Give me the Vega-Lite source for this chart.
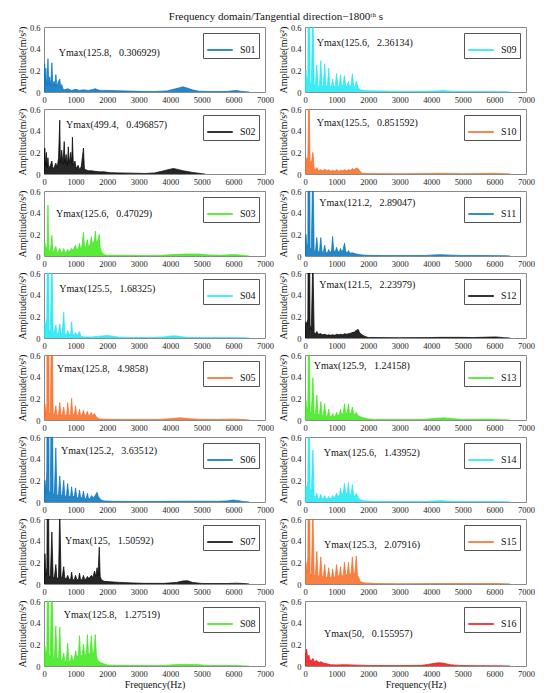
{
  "$schema": "https://vega.github.io/schema/vega-lite/v6.json",
  "background": "white",
  "padding": {"left": 16, "top": 10, "right": 5, "bottom": 5},
  "title": {"text": "Frequency domain/Tangential direction−1800ᵗʰ s", "anchor": "middle"},
  "config": {
    "font": "Liberation Serif",
    "view": {"stroke": "#8a8a8a", "strokeWidth": 1},
    "axis": {"grid": false, "ticks": false, "domain": false, "labelFont": "Liberation Serif", "labelFontSize": 8.5, "labelColor": "#222", "labelFlush": false, "labelOverlap": false, "titleFont": "Liberation Serif", "titleFontSize": 10, "titleFontWeight": "normal", "titleColor": "#111", "labelPadding": 3},
    "axisY": {"titlePadding": 2, "labelPadding": 4},
    "axisX": {"titlePadding": 2},
    "legend": {"orient": "top-right", "offset": 6, "padding": 3, "strokeColor": "#555", "fillColor": "white", "symbolType": "stroke", "symbolSize": 650, "symbolStrokeWidth": 1.6, "labelFont": "Liberation Serif", "labelFontSize": 10, "labelColor": "#111", "labelOffset": 6},
    "title": {"font": "Liberation Serif", "fontSize": 11, "fontWeight": "normal", "color": "#111", "offset": 1},
    "text": {"font": "Liberation Serif", "fontSize": 10, "color": "#111"}
  },
  "columns": 2,
  "spacing": {"row": 17, "column": 40},
  "bounds": "flush",
  "resolve": {"scale": {"color": "independent"}, "legend": {"color": "independent"}},
  "concat": [
    {
      "width": 221, "height": 65,
      "data": {"values": [{"f":0,"a":0.02},{"f":20,"a":0.26},{"f":40,"a":0.08},{"f":60,"a":0.22},{"f":80,"a":0.06},{"f":100,"a":0.12},{"f":125.8,"a":0.306929},{"f":150,"a":0.07},{"f":180,"a":0.14},{"f":210,"a":0.05},{"f":250,"a":0.27},{"f":280,"a":0.06},{"f":320,"a":0.1},{"f":350,"a":0.05},{"f":375,"a":0.16},{"f":410,"a":0.05},{"f":450,"a":0.09},{"f":500,"a":0.12},{"f":530,"a":0.04},{"f":560,"a":0.07},{"f":600,"a":0.03},{"f":650,"a":0.02},{"f":750,"a":0.03},{"f":875,"a":0.015},{"f":1000,"a":0.025},{"f":1125,"a":0.015},{"f":1250,"a":0.02},{"f":1400,"a":0.015},{"f":1500,"a":0.02},{"f":1625,"a":0.03},{"f":1700,"a":0.02},{"f":1800,"a":0.015},{"f":2000,"a":0.015},{"f":2300,"a":0.012},{"f":2600,"a":0.01},{"f":3000,"a":0.006},{"f":3500,"a":0.005},{"f":3900,"a":0.01},{"f":4100,"a":0.025},{"f":4300,"a":0.04},{"f":4400,"a":0.048},{"f":4500,"a":0.04},{"f":4700,"a":0.02},{"f":4900,"a":0.008},{"f":5200,"a":0.005},{"f":5800,"a":0.005},{"f":6000,"a":0.012},{"f":6100,"a":0.015},{"f":6200,"a":0.008},{"f":6400,"a":0.002},{"f":6500,"a":0}]},
      "layer": [
        {"mark": {"type": "area", "clip": true, "color": "#0072BD", "opacity": 0.85}, "encoding": {"x": {"field": "f", "type": "quantitative", "title": null, "scale": {"domain": [0, 7000]}, "axis": {"values": [0,1000,2000,3000,4000,5000,6000,7000], "format": "d"}}, "y": {"field": "a", "type": "quantitative", "title": "Amplitude(m/s²)", "scale": {"domain": [0, 0.6]}, "axis": {"values": [0,0.2,0.4,0.6], "format": "~g"}}}},
        {"mark": {"type": "line", "clip": true, "strokeWidth": 0.7}, "encoding": {"x": {"field": "f", "type": "quantitative", "title": null, "scale": {"domain": [0, 7000]}, "axis": {"values": [0,1000,2000,3000,4000,5000,6000,7000], "format": "d"}}, "y": {"field": "a", "type": "quantitative", "title": "Amplitude(m/s²)", "scale": {"domain": [0, 0.6]}, "axis": {"values": [0,0.2,0.4,0.6], "format": "~g"}}, "color": {"datum": "S01", "scale": {"range": ["#0072BD"]}, "legend": {"title": null}}}},
        {"data": {"values": [{"label": "Ymax(125.8,\u00a0\u00a0 0.306929)"}]}, "mark": {"type": "text", "align": "left", "baseline": "middle"}, "encoding": {"x": {"datum": 470, "type": "quantitative", "title": null, "scale": {"domain": [0, 7000]}, "axis": {"values": [0,1000,2000,3000,4000,5000,6000,7000], "format": "d"}}, "y": {"datum": 0.36, "type": "quantitative", "title": "Amplitude(m/s²)", "scale": {"domain": [0, 0.6]}, "axis": {"values": [0,0.2,0.4,0.6], "format": "~g"}}, "text": {"field": "label"}}}
      ]
    },
    {
      "width": 221, "height": 65,
      "data": {"values": [{"f":0,"a":0.05},{"f":30,"a":0.2},{"f":60,"a":0.07},{"f":90,"a":0.15},{"f":125.6,"a":2.36134},{"f":160,"a":0.08},{"f":200,"a":0.07},{"f":250,"a":0.8},{"f":290,"a":0.06},{"f":330,"a":0.07},{"f":375,"a":0.25},{"f":410,"a":0.05},{"f":460,"a":0.06},{"f":500,"a":0.29},{"f":540,"a":0.05},{"f":580,"a":0.06},{"f":625,"a":0.26},{"f":660,"a":0.05},{"f":710,"a":0.06},{"f":750,"a":0.22},{"f":790,"a":0.05},{"f":840,"a":0.05},{"f":875,"a":0.12},{"f":910,"a":0.05},{"f":960,"a":0.05},{"f":1000,"a":0.17},{"f":1040,"a":0.05},{"f":1090,"a":0.06},{"f":1125,"a":0.16},{"f":1160,"a":0.05},{"f":1210,"a":0.07},{"f":1250,"a":0.15},{"f":1290,"a":0.05},{"f":1340,"a":0.06},{"f":1375,"a":0.1},{"f":1410,"a":0.05},{"f":1460,"a":0.06},{"f":1500,"a":0.17},{"f":1540,"a":0.05},{"f":1590,"a":0.05},{"f":1625,"a":0.1},{"f":1680,"a":0.04},{"f":1750,"a":0.02},{"f":1900,"a":0.012},{"f":2300,"a":0.01},{"f":2700,"a":0.008},{"f":3200,"a":0.005},{"f":3800,"a":0.006},{"f":4200,"a":0.01},{"f":4400,"a":0.013},{"f":4600,"a":0.008},{"f":5000,"a":0.005},{"f":6000,"a":0.004},{"f":6400,"a":0.002},{"f":6500,"a":0}]},
      "layer": [
        {"mark": {"type": "area", "clip": true, "color": "#1CE6F2", "opacity": 0.85}, "encoding": {"x": {"field": "f", "type": "quantitative", "title": null, "scale": {"domain": [0, 7000]}, "axis": {"values": [0,1000,2000,3000,4000,5000,6000,7000], "format": "d"}}, "y": {"field": "a", "type": "quantitative", "title": "Amplitude(m/s²)", "scale": {"domain": [0, 0.6]}, "axis": {"values": [0,0.2,0.4,0.6], "format": "~g"}}}},
        {"mark": {"type": "line", "clip": true, "strokeWidth": 0.7}, "encoding": {"x": {"field": "f", "type": "quantitative", "title": null, "scale": {"domain": [0, 7000]}, "axis": {"values": [0,1000,2000,3000,4000,5000,6000,7000], "format": "d"}}, "y": {"field": "a", "type": "quantitative", "title": "Amplitude(m/s²)", "scale": {"domain": [0, 0.6]}, "axis": {"values": [0,0.2,0.4,0.6], "format": "~g"}}, "color": {"datum": "S09", "scale": {"range": ["#1CE6F2"]}, "legend": {"title": null}}}},
        {"data": {"values": [{"label": "Ymax(125.6,\u00a0\u00a0 2.36134)"}]}, "mark": {"type": "text", "align": "left", "baseline": "middle"}, "encoding": {"x": {"datum": 375, "type": "quantitative", "title": null, "scale": {"domain": [0, 7000]}, "axis": {"values": [0,1000,2000,3000,4000,5000,6000,7000], "format": "d"}}, "y": {"datum": 0.455, "type": "quantitative", "title": "Amplitude(m/s²)", "scale": {"domain": [0, 0.6]}, "axis": {"values": [0,0.2,0.4,0.6], "format": "~g"}}, "text": {"field": "label"}}}
      ]
    },
    {
      "width": 221, "height": 65,
      "data": {"values": [{"f":0,"a":0.03},{"f":25,"a":0.24},{"f":50,"a":0.08},{"f":75,"a":0.2},{"f":100,"a":0.06},{"f":125,"a":0.15},{"f":150,"a":0.05},{"f":200,"a":0.08},{"f":250,"a":0.12},{"f":280,"a":0.05},{"f":320,"a":0.06},{"f":375,"a":0.1},{"f":420,"a":0.06},{"f":460,"a":0.15},{"f":499.4,"a":0.496857},{"f":520,"a":0.1},{"f":560,"a":0.22},{"f":600,"a":0.09},{"f":640,"a":0.3},{"f":670,"a":0.1},{"f":700,"a":0.18},{"f":740,"a":0.08},{"f":770,"a":0.25},{"f":800,"a":0.1},{"f":850,"a":0.2},{"f":880,"a":0.09},{"f":900,"a":0.34},{"f":930,"a":0.08},{"f":980,"a":0.12},{"f":1020,"a":0.05},{"f":1080,"a":0.08},{"f":1130,"a":0.04},{"f":1180,"a":0.07},{"f":1250,"a":0.24},{"f":1280,"a":0.05},{"f":1320,"a":0.04},{"f":1400,"a":0.03},{"f":1500,"a":0.03},{"f":1600,"a":0.025},{"f":1750,"a":0.02},{"f":1900,"a":0.02},{"f":2100,"a":0.012},{"f":2400,"a":0.01},{"f":2800,"a":0.008},{"f":3200,"a":0.005},{"f":3500,"a":0.01},{"f":3800,"a":0.03},{"f":4000,"a":0.045},{"f":4100,"a":0.05},{"f":4200,"a":0.045},{"f":4400,"a":0.03},{"f":4700,"a":0.015},{"f":5000,"a":0.003},{"f":5100,"a":0}]},
      "layer": [
        {"mark": {"type": "area", "clip": true, "color": "#000000", "opacity": 0.85}, "encoding": {"x": {"field": "f", "type": "quantitative", "title": null, "scale": {"domain": [0, 7000]}, "axis": {"values": [0,1000,2000,3000,4000,5000,6000,7000], "format": "d"}}, "y": {"field": "a", "type": "quantitative", "title": "Amplitude(m/s²)", "scale": {"domain": [0, 0.6]}, "axis": {"values": [0,0.2,0.4,0.6], "format": "~g"}}}},
        {"mark": {"type": "line", "clip": true, "strokeWidth": 0.7}, "encoding": {"x": {"field": "f", "type": "quantitative", "title": null, "scale": {"domain": [0, 7000]}, "axis": {"values": [0,1000,2000,3000,4000,5000,6000,7000], "format": "d"}}, "y": {"field": "a", "type": "quantitative", "title": "Amplitude(m/s²)", "scale": {"domain": [0, 0.6]}, "axis": {"values": [0,0.2,0.4,0.6], "format": "~g"}}, "color": {"datum": "S02", "scale": {"range": ["#000000"]}, "legend": {"title": null}}}},
        {"data": {"values": [{"label": "Ymax(499.4,\u00a0\u00a0 0.496857)"}]}, "mark": {"type": "text", "align": "left", "baseline": "middle"}, "encoding": {"x": {"datum": 697, "type": "quantitative", "title": null, "scale": {"domain": [0, 7000]}, "axis": {"values": [0,1000,2000,3000,4000,5000,6000,7000], "format": "d"}}, "y": {"datum": 0.45, "type": "quantitative", "title": "Amplitude(m/s²)", "scale": {"domain": [0, 0.6]}, "axis": {"values": [0,0.2,0.4,0.6], "format": "~g"}}, "text": {"field": "label"}}}
      ]
    },
    {
      "width": 221, "height": 65,
      "data": {"values": [{"f":0,"a":0.05},{"f":30,"a":0.12},{"f":60,"a":0.15},{"f":90,"a":0.14},{"f":125.5,"a":0.851592},{"f":160,"a":0.12},{"f":200,"a":0.1},{"f":250,"a":0.2},{"f":290,"a":0.05},{"f":330,"a":0.04},{"f":375,"a":0.06},{"f":420,"a":0.03},{"f":500,"a":0.04},{"f":560,"a":0.03},{"f":625,"a":0.045},{"f":700,"a":0.03},{"f":750,"a":0.04},{"f":820,"a":0.025},{"f":875,"a":0.035},{"f":950,"a":0.025},{"f":1000,"a":0.04},{"f":1080,"a":0.025},{"f":1125,"a":0.035},{"f":1200,"a":0.03},{"f":1250,"a":0.04},{"f":1320,"a":0.03},{"f":1375,"a":0.04},{"f":1450,"a":0.035},{"f":1500,"a":0.05},{"f":1560,"a":0.04},{"f":1625,"a":0.055},{"f":1680,"a":0.05},{"f":1730,"a":0.03},{"f":1800,"a":0.008},{"f":2000,"a":0.004},{"f":3000,"a":0.003},{"f":4000,"a":0.005},{"f":4300,"a":0.006},{"f":5000,"a":0.003},{"f":5900,"a":0.006},{"f":6100,"a":0.005},{"f":6400,"a":0.002},{"f":6500,"a":0}]},
      "layer": [
        {"mark": {"type": "area", "clip": true, "color": "#F76A22", "opacity": 0.85}, "encoding": {"x": {"field": "f", "type": "quantitative", "title": null, "scale": {"domain": [0, 7000]}, "axis": {"values": [0,1000,2000,3000,4000,5000,6000,7000], "format": "d"}}, "y": {"field": "a", "type": "quantitative", "title": "Amplitude(m/s²)", "scale": {"domain": [0, 0.6]}, "axis": {"values": [0,0.2,0.4,0.6], "format": "~g"}}}},
        {"mark": {"type": "line", "clip": true, "strokeWidth": 0.7}, "encoding": {"x": {"field": "f", "type": "quantitative", "title": null, "scale": {"domain": [0, 7000]}, "axis": {"values": [0,1000,2000,3000,4000,5000,6000,7000], "format": "d"}}, "y": {"field": "a", "type": "quantitative", "title": "Amplitude(m/s²)", "scale": {"domain": [0, 0.6]}, "axis": {"values": [0,0.2,0.4,0.6], "format": "~g"}}, "color": {"datum": "S10", "scale": {"range": ["#F76A22"]}, "legend": {"title": null}}}},
        {"data": {"values": [{"label": "Ymax(125.5,\u00a0\u00a0 0.851592)"}]}, "mark": {"type": "text", "align": "left", "baseline": "middle"}, "encoding": {"x": {"datum": 375, "type": "quantitative", "title": null, "scale": {"domain": [0, 7000]}, "axis": {"values": [0,1000,2000,3000,4000,5000,6000,7000], "format": "d"}}, "y": {"datum": 0.47, "type": "quantitative", "title": "Amplitude(m/s²)", "scale": {"domain": [0, 0.6]}, "axis": {"values": [0,0.2,0.4,0.6], "format": "~g"}}, "text": {"field": "label"}}}
      ]
    },
    {
      "width": 221, "height": 65,
      "data": {"values": [{"f":0,"a":0.03},{"f":30,"a":0.12},{"f":60,"a":0.05},{"f":100,"a":0.1},{"f":125.6,"a":0.47029},{"f":150,"a":0.06},{"f":200,"a":0.04},{"f":250,"a":0.19},{"f":280,"a":0.04},{"f":330,"a":0.05},{"f":375,"a":0.09},{"f":410,"a":0.03},{"f":450,"a":0.04},{"f":500,"a":0.07},{"f":540,"a":0.03},{"f":600,"a":0.04},{"f":625,"a":0.07},{"f":660,"a":0.03},{"f":720,"a":0.04},{"f":750,"a":0.06},{"f":800,"a":0.04},{"f":875,"a":0.07},{"f":920,"a":0.05},{"f":1000,"a":0.1},{"f":1040,"a":0.05},{"f":1100,"a":0.08},{"f":1125,"a":0.12},{"f":1160,"a":0.06},{"f":1200,"a":0.09},{"f":1250,"a":0.22},{"f":1290,"a":0.07},{"f":1340,"a":0.1},{"f":1375,"a":0.15},{"f":1410,"a":0.08},{"f":1460,"a":0.11},{"f":1500,"a":0.18},{"f":1540,"a":0.1},{"f":1600,"a":0.15},{"f":1625,"a":0.23},{"f":1660,"a":0.12},{"f":1700,"a":0.14},{"f":1750,"a":0.2},{"f":1780,"a":0.08},{"f":1820,"a":0.04},{"f":1900,"a":0.012},{"f":2000,"a":0.008},{"f":2500,"a":0.006},{"f":3000,"a":0.005},{"f":3600,"a":0.005},{"f":4000,"a":0.012},{"f":4500,"a":0.018},{"f":4900,"a":0.018},{"f":5200,"a":0.01},{"f":5600,"a":0.006},{"f":5900,"a":0.012},{"f":6100,"a":0.012},{"f":6400,"a":0.003},{"f":6500,"a":0}]},
      "layer": [
        {"mark": {"type": "area", "clip": true, "color": "#3BE817", "opacity": 0.85}, "encoding": {"x": {"field": "f", "type": "quantitative", "title": null, "scale": {"domain": [0, 7000]}, "axis": {"values": [0,1000,2000,3000,4000,5000,6000,7000], "format": "d"}}, "y": {"field": "a", "type": "quantitative", "title": "Amplitude(m/s²)", "scale": {"domain": [0, 0.6]}, "axis": {"values": [0,0.2,0.4,0.6], "format": "~g"}}}},
        {"mark": {"type": "line", "clip": true, "strokeWidth": 0.7}, "encoding": {"x": {"field": "f", "type": "quantitative", "title": null, "scale": {"domain": [0, 7000]}, "axis": {"values": [0,1000,2000,3000,4000,5000,6000,7000], "format": "d"}}, "y": {"field": "a", "type": "quantitative", "title": "Amplitude(m/s²)", "scale": {"domain": [0, 0.6]}, "axis": {"values": [0,0.2,0.4,0.6], "format": "~g"}}, "color": {"datum": "S03", "scale": {"range": ["#3BE817"]}, "legend": {"title": null}}}},
        {"data": {"values": [{"label": "Ymax(125.6,\u00a0\u00a0 0.47029)"}]}, "mark": {"type": "text", "align": "left", "baseline": "middle"}, "encoding": {"x": {"datum": 380, "type": "quantitative", "title": null, "scale": {"domain": [0, 7000]}, "axis": {"values": [0,1000,2000,3000,4000,5000,6000,7000], "format": "d"}}, "y": {"datum": 0.39, "type": "quantitative", "title": "Amplitude(m/s²)", "scale": {"domain": [0, 0.6]}, "axis": {"values": [0,0.2,0.4,0.6], "format": "~g"}}, "text": {"field": "label"}}}
      ]
    },
    {
      "width": 221, "height": 65,
      "data": {"values": [{"f":0,"a":0.06},{"f":30,"a":0.2},{"f":60,"a":0.08},{"f":90,"a":0.12},{"f":121.2,"a":2.89047},{"f":160,"a":0.08},{"f":200,"a":0.05},{"f":250,"a":0.9},{"f":290,"a":0.05},{"f":330,"a":0.04},{"f":375,"a":0.17},{"f":410,"a":0.04},{"f":460,"a":0.04},{"f":500,"a":0.17},{"f":540,"a":0.035},{"f":580,"a":0.035},{"f":625,"a":0.1},{"f":660,"a":0.03},{"f":710,"a":0.03},{"f":750,"a":0.06},{"f":790,"a":0.03},{"f":840,"a":0.05},{"f":875,"a":0.18},{"f":910,"a":0.05},{"f":960,"a":0.04},{"f":1000,"a":0.08},{"f":1040,"a":0.04},{"f":1090,"a":0.04},{"f":1125,"a":0.07},{"f":1160,"a":0.04},{"f":1210,"a":0.06},{"f":1250,"a":0.12},{"f":1290,"a":0.04},{"f":1340,"a":0.03},{"f":1375,"a":0.05},{"f":1420,"a":0.025},{"f":1500,"a":0.03},{"f":1600,"a":0.02},{"f":1700,"a":0.015},{"f":1800,"a":0.01},{"f":2000,"a":0.006},{"f":2500,"a":0.004},{"f":3200,"a":0.004},{"f":3800,"a":0.005},{"f":4100,"a":0.01},{"f":4300,"a":0.012},{"f":4600,"a":0.008},{"f":5000,"a":0.005},{"f":5800,"a":0.004},{"f":6400,"a":0.002},{"f":6500,"a":0}]},
      "layer": [
        {"mark": {"type": "area", "clip": true, "color": "#0072BD", "opacity": 0.85}, "encoding": {"x": {"field": "f", "type": "quantitative", "title": null, "scale": {"domain": [0, 7000]}, "axis": {"values": [0,1000,2000,3000,4000,5000,6000,7000], "format": "d"}}, "y": {"field": "a", "type": "quantitative", "title": "Amplitude(m/s²)", "scale": {"domain": [0, 0.6]}, "axis": {"values": [0,0.2,0.4,0.6], "format": "~g"}}}},
        {"mark": {"type": "line", "clip": true, "strokeWidth": 0.7}, "encoding": {"x": {"field": "f", "type": "quantitative", "title": null, "scale": {"domain": [0, 7000]}, "axis": {"values": [0,1000,2000,3000,4000,5000,6000,7000], "format": "d"}}, "y": {"field": "a", "type": "quantitative", "title": "Amplitude(m/s²)", "scale": {"domain": [0, 0.6]}, "axis": {"values": [0,0.2,0.4,0.6], "format": "~g"}}, "color": {"datum": "S11", "scale": {"range": ["#0072BD"]}, "legend": {"title": null}}}},
        {"data": {"values": [{"label": "Ymax(121.2,\u00a0\u00a0 2.89047)"}]}, "mark": {"type": "text", "align": "left", "baseline": "middle"}, "encoding": {"x": {"datum": 454, "type": "quantitative", "title": null, "scale": {"domain": [0, 7000]}, "axis": {"values": [0,1000,2000,3000,4000,5000,6000,7000], "format": "d"}}, "y": {"datum": 0.49, "type": "quantitative", "title": "Amplitude(m/s²)", "scale": {"domain": [0, 0.6]}, "axis": {"values": [0,0.2,0.4,0.6], "format": "~g"}}, "text": {"field": "label"}}}
      ]
    },
    {
      "width": 221, "height": 65,
      "data": {"values": [{"f":0,"a":0.05},{"f":30,"a":0.15},{"f":60,"a":0.06},{"f":90,"a":0.2},{"f":125.5,"a":1.68325},{"f":160,"a":0.08},{"f":200,"a":0.05},{"f":250,"a":0.8},{"f":290,"a":0.05},{"f":330,"a":0.06},{"f":375,"a":0.12},{"f":410,"a":0.04},{"f":460,"a":0.05},{"f":500,"a":0.13},{"f":540,"a":0.04},{"f":580,"a":0.05},{"f":625,"a":0.24},{"f":660,"a":0.04},{"f":720,"a":0.03},{"f":750,"a":0.07},{"f":800,"a":0.03},{"f":850,"a":0.04},{"f":875,"a":0.15},{"f":910,"a":0.03},{"f":960,"a":0.03},{"f":1000,"a":0.05},{"f":1050,"a":0.02},{"f":1125,"a":0.06},{"f":1170,"a":0.015},{"f":1300,"a":0.01},{"f":1500,"a":0.01},{"f":1700,"a":0.015},{"f":1900,"a":0.02},{"f":2050,"a":0.022},{"f":2200,"a":0.015},{"f":2400,"a":0.008},{"f":2800,"a":0.005},{"f":3400,"a":0.004},{"f":3800,"a":0.01},{"f":4000,"a":0.018},{"f":4150,"a":0.02},{"f":4300,"a":0.015},{"f":4500,"a":0.006},{"f":5000,"a":0.004},{"f":5800,"a":0.004},{"f":6400,"a":0.002},{"f":6500,"a":0}]},
      "layer": [
        {"mark": {"type": "area", "clip": true, "color": "#1CE6F2", "opacity": 0.85}, "encoding": {"x": {"field": "f", "type": "quantitative", "title": null, "scale": {"domain": [0, 7000]}, "axis": {"values": [0,1000,2000,3000,4000,5000,6000,7000], "format": "d"}}, "y": {"field": "a", "type": "quantitative", "title": "Amplitude(m/s²)", "scale": {"domain": [0, 0.6]}, "axis": {"values": [0,0.2,0.4,0.6], "format": "~g"}}}},
        {"mark": {"type": "line", "clip": true, "strokeWidth": 0.7}, "encoding": {"x": {"field": "f", "type": "quantitative", "title": null, "scale": {"domain": [0, 7000]}, "axis": {"values": [0,1000,2000,3000,4000,5000,6000,7000], "format": "d"}}, "y": {"field": "a", "type": "quantitative", "title": "Amplitude(m/s²)", "scale": {"domain": [0, 0.6]}, "axis": {"values": [0,0.2,0.4,0.6], "format": "~g"}}, "color": {"datum": "S04", "scale": {"range": ["#1CE6F2"]}, "legend": {"title": null}}}},
        {"data": {"values": [{"label": "Ymax(125.5,\u00a0\u00a0 1.68325)"}]}, "mark": {"type": "text", "align": "left", "baseline": "middle"}, "encoding": {"x": {"datum": 486, "type": "quantitative", "title": null, "scale": {"domain": [0, 7000]}, "axis": {"values": [0,1000,2000,3000,4000,5000,6000,7000], "format": "d"}}, "y": {"datum": 0.45, "type": "quantitative", "title": "Amplitude(m/s²)", "scale": {"domain": [0, 0.6]}, "axis": {"values": [0,0.2,0.4,0.6], "format": "~g"}}, "text": {"field": "label"}}}
      ]
    },
    {
      "width": 221, "height": 65,
      "data": {"values": [{"f":0,"a":0.08},{"f":30,"a":0.15},{"f":60,"a":0.12},{"f":90,"a":0.18},{"f":121.5,"a":2.23979},{"f":160,"a":0.12},{"f":200,"a":0.08},{"f":250,"a":0.75},{"f":290,"a":0.05},{"f":330,"a":0.04},{"f":375,"a":0.06},{"f":420,"a":0.035},{"f":500,"a":0.04},{"f":560,"a":0.03},{"f":625,"a":0.035},{"f":700,"a":0.025},{"f":750,"a":0.03},{"f":820,"a":0.025},{"f":875,"a":0.03},{"f":950,"a":0.025},{"f":1000,"a":0.035},{"f":1080,"a":0.03},{"f":1125,"a":0.035},{"f":1200,"a":0.03},{"f":1250,"a":0.04},{"f":1320,"a":0.035},{"f":1375,"a":0.04},{"f":1450,"a":0.045},{"f":1500,"a":0.05},{"f":1560,"a":0.055},{"f":1625,"a":0.07},{"f":1680,"a":0.08},{"f":1730,"a":0.05},{"f":1800,"a":0.03},{"f":1900,"a":0.015},{"f":2000,"a":0.005},{"f":3000,"a":0.003},{"f":3900,"a":0.004},{"f":4300,"a":0.006},{"f":5000,"a":0.006},{"f":5300,"a":0.004},{"f":5900,"a":0.009},{"f":6050,"a":0.01},{"f":6300,"a":0.003},{"f":6500,"a":0}]},
      "layer": [
        {"mark": {"type": "area", "clip": true, "color": "#000000", "opacity": 0.85}, "encoding": {"x": {"field": "f", "type": "quantitative", "title": null, "scale": {"domain": [0, 7000]}, "axis": {"values": [0,1000,2000,3000,4000,5000,6000,7000], "format": "d"}}, "y": {"field": "a", "type": "quantitative", "title": "Amplitude(m/s²)", "scale": {"domain": [0, 0.6]}, "axis": {"values": [0,0.2,0.4,0.6], "format": "~g"}}}},
        {"mark": {"type": "line", "clip": true, "strokeWidth": 0.7}, "encoding": {"x": {"field": "f", "type": "quantitative", "title": null, "scale": {"domain": [0, 7000]}, "axis": {"values": [0,1000,2000,3000,4000,5000,6000,7000], "format": "d"}}, "y": {"field": "a", "type": "quantitative", "title": "Amplitude(m/s²)", "scale": {"domain": [0, 0.6]}, "axis": {"values": [0,0.2,0.4,0.6], "format": "~g"}}, "color": {"datum": "S12", "scale": {"range": ["#000000"]}, "legend": {"title": null}}}},
        {"data": {"values": [{"label": "Ymax(121.5,\u00a0\u00a0 2.23979)"}]}, "mark": {"type": "text", "align": "left", "baseline": "middle"}, "encoding": {"x": {"datum": 454, "type": "quantitative", "title": null, "scale": {"domain": [0, 7000]}, "axis": {"values": [0,1000,2000,3000,4000,5000,6000,7000], "format": "d"}}, "y": {"datum": 0.49, "type": "quantitative", "title": "Amplitude(m/s²)", "scale": {"domain": [0, 0.6]}, "axis": {"values": [0,0.2,0.4,0.6], "format": "~g"}}, "text": {"field": "label"}}}
      ]
    },
    {
      "width": 221, "height": 65,
      "data": {"values": [{"f":0,"a":0.04},{"f":30,"a":0.15},{"f":60,"a":0.05},{"f":90,"a":0.12},{"f":125.8,"a":4.9858},{"f":160,"a":0.07},{"f":200,"a":0.05},{"f":250,"a":1.2},{"f":290,"a":0.05},{"f":330,"a":0.05},{"f":375,"a":0.13},{"f":410,"a":0.04},{"f":460,"a":0.05},{"f":500,"a":0.16},{"f":540,"a":0.04},{"f":580,"a":0.05},{"f":625,"a":0.12},{"f":660,"a":0.04},{"f":720,"a":0.05},{"f":750,"a":0.16},{"f":790,"a":0.04},{"f":840,"a":0.05},{"f":875,"a":0.2},{"f":910,"a":0.05},{"f":960,"a":0.05},{"f":1000,"a":0.13},{"f":1040,"a":0.04},{"f":1090,"a":0.05},{"f":1125,"a":0.1},{"f":1160,"a":0.04},{"f":1210,"a":0.05},{"f":1250,"a":0.09},{"f":1290,"a":0.04},{"f":1340,"a":0.05},{"f":1375,"a":0.08},{"f":1410,"a":0.04},{"f":1460,"a":0.05},{"f":1500,"a":0.07},{"f":1540,"a":0.04},{"f":1600,"a":0.06},{"f":1650,"a":0.03},{"f":1750,"a":0.01},{"f":2000,"a":0.006},{"f":2500,"a":0.005},{"f":3000,"a":0.005},{"f":3600,"a":0.005},{"f":4000,"a":0.012},{"f":4300,"a":0.02},{"f":4600,"a":0.012},{"f":4900,"a":0.006},{"f":5500,"a":0.005},{"f":6000,"a":0.008},{"f":6300,"a":0.005},{"f":6500,"a":0}]},
      "layer": [
        {"mark": {"type": "area", "clip": true, "color": "#F76A22", "opacity": 0.85}, "encoding": {"x": {"field": "f", "type": "quantitative", "title": null, "scale": {"domain": [0, 7000]}, "axis": {"values": [0,1000,2000,3000,4000,5000,6000,7000], "format": "d"}}, "y": {"field": "a", "type": "quantitative", "title": "Amplitude(m/s²)", "scale": {"domain": [0, 0.6]}, "axis": {"values": [0,0.2,0.4,0.6], "format": "~g"}}}},
        {"mark": {"type": "line", "clip": true, "strokeWidth": 0.7}, "encoding": {"x": {"field": "f", "type": "quantitative", "title": null, "scale": {"domain": [0, 7000]}, "axis": {"values": [0,1000,2000,3000,4000,5000,6000,7000], "format": "d"}}, "y": {"field": "a", "type": "quantitative", "title": "Amplitude(m/s²)", "scale": {"domain": [0, 0.6]}, "axis": {"values": [0,0.2,0.4,0.6], "format": "~g"}}, "color": {"datum": "S05", "scale": {"range": ["#F76A22"]}, "legend": {"title": null}}}},
        {"data": {"values": [{"label": "Ymax(125.8,\u00a0\u00a0 4.9858)"}]}, "mark": {"type": "text", "align": "left", "baseline": "middle"}, "encoding": {"x": {"datum": 412, "type": "quantitative", "title": null, "scale": {"domain": [0, 7000]}, "axis": {"values": [0,1000,2000,3000,4000,5000,6000,7000], "format": "d"}}, "y": {"datum": 0.47, "type": "quantitative", "title": "Amplitude(m/s²)", "scale": {"domain": [0, 0.6]}, "axis": {"values": [0,0.2,0.4,0.6], "format": "~g"}}, "text": {"field": "label"}}}
      ]
    },
    {
      "width": 221, "height": 65,
      "data": {"values": [{"f":0,"a":0.06},{"f":30,"a":0.18},{"f":60,"a":0.08},{"f":90,"a":0.12},{"f":125.9,"a":1.24158},{"f":160,"a":0.08},{"f":200,"a":0.06},{"f":250,"a":0.39},{"f":290,"a":0.05},{"f":330,"a":0.05},{"f":375,"a":0.23},{"f":410,"a":0.05},{"f":460,"a":0.05},{"f":500,"a":0.17},{"f":540,"a":0.04},{"f":580,"a":0.04},{"f":625,"a":0.15},{"f":660,"a":0.035},{"f":710,"a":0.035},{"f":750,"a":0.1},{"f":790,"a":0.03},{"f":840,"a":0.03},{"f":875,"a":0.06},{"f":910,"a":0.03},{"f":960,"a":0.035},{"f":1000,"a":0.07},{"f":1040,"a":0.04},{"f":1090,"a":0.05},{"f":1125,"a":0.1},{"f":1160,"a":0.05},{"f":1210,"a":0.06},{"f":1250,"a":0.15},{"f":1290,"a":0.06},{"f":1340,"a":0.07},{"f":1375,"a":0.15},{"f":1410,"a":0.06},{"f":1460,"a":0.06},{"f":1500,"a":0.12},{"f":1540,"a":0.05},{"f":1580,"a":0.05},{"f":1625,"a":0.07},{"f":1680,"a":0.04},{"f":1750,"a":0.03},{"f":1850,"a":0.02},{"f":2000,"a":0.01},{"f":2200,"a":0.005},{"f":3000,"a":0.004},{"f":3700,"a":0.004},{"f":4000,"a":0.012},{"f":4400,"a":0.02},{"f":4700,"a":0.012},{"f":5000,"a":0.005},{"f":5600,"a":0.007},{"f":5900,"a":0.007},{"f":6300,"a":0.002},{"f":6500,"a":0}]},
      "layer": [
        {"mark": {"type": "area", "clip": true, "color": "#3BE817", "opacity": 0.85}, "encoding": {"x": {"field": "f", "type": "quantitative", "title": null, "scale": {"domain": [0, 7000]}, "axis": {"values": [0,1000,2000,3000,4000,5000,6000,7000], "format": "d"}}, "y": {"field": "a", "type": "quantitative", "title": "Amplitude(m/s²)", "scale": {"domain": [0, 0.6]}, "axis": {"values": [0,0.2,0.4,0.6], "format": "~g"}}}},
        {"mark": {"type": "line", "clip": true, "strokeWidth": 0.7}, "encoding": {"x": {"field": "f", "type": "quantitative", "title": null, "scale": {"domain": [0, 7000]}, "axis": {"values": [0,1000,2000,3000,4000,5000,6000,7000], "format": "d"}}, "y": {"field": "a", "type": "quantitative", "title": "Amplitude(m/s²)", "scale": {"domain": [0, 0.6]}, "axis": {"values": [0,0.2,0.4,0.6], "format": "~g"}}, "color": {"datum": "S13", "scale": {"range": ["#3BE817"]}, "legend": {"title": null}}}},
        {"data": {"values": [{"label": "Ymax(125.9,\u00a0\u00a0 1.24158)"}]}, "mark": {"type": "text", "align": "left", "baseline": "middle"}, "encoding": {"x": {"datum": 275, "type": "quantitative", "title": null, "scale": {"domain": [0, 7000]}, "axis": {"values": [0,1000,2000,3000,4000,5000,6000,7000], "format": "d"}}, "y": {"datum": 0.5, "type": "quantitative", "title": "Amplitude(m/s²)", "scale": {"domain": [0, 0.6]}, "axis": {"values": [0,0.2,0.4,0.6], "format": "~g"}}, "text": {"field": "label"}}}
      ]
    },
    {
      "width": 221, "height": 65,
      "data": {"values": [{"f":0,"a":0.05},{"f":30,"a":0.2},{"f":60,"a":0.08},{"f":90,"a":0.3},{"f":125.2,"a":3.63512},{"f":160,"a":0.1},{"f":200,"a":0.08},{"f":250,"a":1.5},{"f":290,"a":0.07},{"f":330,"a":0.08},{"f":375,"a":0.5},{"f":410,"a":0.06},{"f":460,"a":0.07},{"f":500,"a":0.24},{"f":540,"a":0.06},{"f":580,"a":0.06},{"f":625,"a":0.2},{"f":660,"a":0.05},{"f":710,"a":0.06},{"f":750,"a":0.17},{"f":790,"a":0.05},{"f":840,"a":0.05},{"f":875,"a":0.14},{"f":910,"a":0.05},{"f":960,"a":0.05},{"f":1000,"a":0.13},{"f":1040,"a":0.04},{"f":1090,"a":0.04},{"f":1125,"a":0.11},{"f":1160,"a":0.04},{"f":1210,"a":0.04},{"f":1250,"a":0.1},{"f":1290,"a":0.03},{"f":1340,"a":0.035},{"f":1375,"a":0.08},{"f":1410,"a":0.03},{"f":1460,"a":0.03},{"f":1500,"a":0.06},{"f":1560,"a":0.04},{"f":1620,"a":0.06},{"f":1680,"a":0.09},{"f":1720,"a":0.05},{"f":1800,"a":0.02},{"f":1900,"a":0.01},{"f":2200,"a":0.006},{"f":3000,"a":0.005},{"f":3500,"a":0.005},{"f":4000,"a":0.006},{"f":4500,"a":0.007},{"f":5000,"a":0.007},{"f":5500,"a":0.006},{"f":5800,"a":0.01},{"f":6000,"a":0.018},{"f":6100,"a":0.015},{"f":6300,"a":0.005},{"f":6500,"a":0}]},
      "layer": [
        {"mark": {"type": "area", "clip": true, "color": "#0072BD", "opacity": 0.85}, "encoding": {"x": {"field": "f", "type": "quantitative", "title": null, "scale": {"domain": [0, 7000]}, "axis": {"values": [0,1000,2000,3000,4000,5000,6000,7000], "format": "d"}}, "y": {"field": "a", "type": "quantitative", "title": "Amplitude(m/s²)", "scale": {"domain": [0, 0.6]}, "axis": {"values": [0,0.2,0.4,0.6], "format": "~g"}}}},
        {"mark": {"type": "line", "clip": true, "strokeWidth": 0.7}, "encoding": {"x": {"field": "f", "type": "quantitative", "title": null, "scale": {"domain": [0, 7000]}, "axis": {"values": [0,1000,2000,3000,4000,5000,6000,7000], "format": "d"}}, "y": {"field": "a", "type": "quantitative", "title": "Amplitude(m/s²)", "scale": {"domain": [0, 0.6]}, "axis": {"values": [0,0.2,0.4,0.6], "format": "~g"}}, "color": {"datum": "S06", "scale": {"range": ["#0072BD"]}, "legend": {"title": null}}}},
        {"data": {"values": [{"label": "Ymax(125.2,\u00a0\u00a0 3.63512)"}]}, "mark": {"type": "text", "align": "left", "baseline": "middle"}, "encoding": {"x": {"datum": 540, "type": "quantitative", "title": null, "scale": {"domain": [0, 7000]}, "axis": {"values": [0,1000,2000,3000,4000,5000,6000,7000], "format": "d"}}, "y": {"datum": 0.47, "type": "quantitative", "title": "Amplitude(m/s²)", "scale": {"domain": [0, 0.6]}, "axis": {"values": [0,0.2,0.4,0.6], "format": "~g"}}, "text": {"field": "label"}}}
      ]
    },
    {
      "width": 221, "height": 65,
      "data": {"values": [{"f":0,"a":0.1},{"f":30,"a":0.15},{"f":60,"a":0.12},{"f":90,"a":0.2},{"f":125.6,"a":1.43952},{"f":160,"a":0.12},{"f":200,"a":0.1},{"f":250,"a":0.48},{"f":290,"a":0.06},{"f":330,"a":0.04},{"f":375,"a":0.08},{"f":410,"a":0.03},{"f":460,"a":0.03},{"f":500,"a":0.07},{"f":540,"a":0.03},{"f":580,"a":0.03},{"f":625,"a":0.06},{"f":660,"a":0.03},{"f":710,"a":0.03},{"f":750,"a":0.05},{"f":790,"a":0.03},{"f":840,"a":0.035},{"f":875,"a":0.06},{"f":910,"a":0.04},{"f":960,"a":0.05},{"f":1000,"a":0.08},{"f":1040,"a":0.05},{"f":1090,"a":0.06},{"f":1125,"a":0.13},{"f":1160,"a":0.07},{"f":1210,"a":0.08},{"f":1250,"a":0.17},{"f":1290,"a":0.08},{"f":1340,"a":0.08},{"f":1375,"a":0.18},{"f":1410,"a":0.07},{"f":1460,"a":0.07},{"f":1500,"a":0.16},{"f":1540,"a":0.06},{"f":1580,"a":0.05},{"f":1625,"a":0.08},{"f":1680,"a":0.04},{"f":1750,"a":0.02},{"f":1900,"a":0.01},{"f":2200,"a":0.006},{"f":3000,"a":0.004},{"f":3800,"a":0.005},{"f":4100,"a":0.01},{"f":4300,"a":0.012},{"f":4600,"a":0.007},{"f":5000,"a":0.004},{"f":6000,"a":0.004},{"f":6400,"a":0.002},{"f":6500,"a":0}]},
      "layer": [
        {"mark": {"type": "area", "clip": true, "color": "#1CE6F2", "opacity": 0.85}, "encoding": {"x": {"field": "f", "type": "quantitative", "title": null, "scale": {"domain": [0, 7000]}, "axis": {"values": [0,1000,2000,3000,4000,5000,6000,7000], "format": "d"}}, "y": {"field": "a", "type": "quantitative", "title": "Amplitude(m/s²)", "scale": {"domain": [0, 0.6]}, "axis": {"values": [0,0.2,0.4,0.6], "format": "~g"}}}},
        {"mark": {"type": "line", "clip": true, "strokeWidth": 0.7}, "encoding": {"x": {"field": "f", "type": "quantitative", "title": null, "scale": {"domain": [0, 7000]}, "axis": {"values": [0,1000,2000,3000,4000,5000,6000,7000], "format": "d"}}, "y": {"field": "a", "type": "quantitative", "title": "Amplitude(m/s²)", "scale": {"domain": [0, 0.6]}, "axis": {"values": [0,0.2,0.4,0.6], "format": "~g"}}, "color": {"datum": "S14", "scale": {"range": ["#1CE6F2"]}, "legend": {"title": null}}}},
        {"data": {"values": [{"label": "Ymax(125.6,\u00a0\u00a0 1.43952)"}]}, "mark": {"type": "text", "align": "left", "baseline": "middle"}, "encoding": {"x": {"datum": 591, "type": "quantitative", "title": null, "scale": {"domain": [0, 7000]}, "axis": {"values": [0,1000,2000,3000,4000,5000,6000,7000], "format": "d"}}, "y": {"datum": 0.45, "type": "quantitative", "title": "Amplitude(m/s²)", "scale": {"domain": [0, 0.6]}, "axis": {"values": [0,0.2,0.4,0.6], "format": "~g"}}, "text": {"field": "label"}}}
      ]
    },
    {
      "width": 221, "height": 65,
      "data": {"values": [{"f":0,"a":0.05},{"f":30,"a":0.28},{"f":60,"a":0.08},{"f":90,"a":0.15},{"f":125,"a":1.50592},{"f":160,"a":0.08},{"f":200,"a":0.06},{"f":250,"a":0.48},{"f":290,"a":0.06},{"f":330,"a":0.06},{"f":375,"a":0.18},{"f":410,"a":0.05},{"f":460,"a":0.06},{"f":500,"a":0.7},{"f":540,"a":0.06},{"f":580,"a":0.07},{"f":625,"a":0.16},{"f":660,"a":0.05},{"f":710,"a":0.05},{"f":750,"a":0.08},{"f":800,"a":0.04},{"f":850,"a":0.05},{"f":875,"a":0.11},{"f":910,"a":0.04},{"f":960,"a":0.04},{"f":1000,"a":0.08},{"f":1040,"a":0.04},{"f":1090,"a":0.04},{"f":1125,"a":0.1},{"f":1160,"a":0.04},{"f":1210,"a":0.04},{"f":1250,"a":0.08},{"f":1290,"a":0.04},{"f":1340,"a":0.05},{"f":1375,"a":0.07},{"f":1420,"a":0.05},{"f":1500,"a":0.08},{"f":1550,"a":0.06},{"f":1600,"a":0.12},{"f":1640,"a":0.07},{"f":1680,"a":0.15},{"f":1710,"a":0.08},{"f":1750,"a":0.34},{"f":1780,"a":0.07},{"f":1820,"a":0.04},{"f":1900,"a":0.025},{"f":2100,"a":0.02},{"f":2400,"a":0.015},{"f":2800,"a":0.01},{"f":3200,"a":0.006},{"f":3800,"a":0.006},{"f":4200,"a":0.015},{"f":4400,"a":0.028},{"f":4550,"a":0.03},{"f":4700,"a":0.015},{"f":5000,"a":0.005},{"f":5800,"a":0.004},{"f":6100,"a":0.008},{"f":6400,"a":0.003},{"f":6500,"a":0}]},
      "layer": [
        {"mark": {"type": "area", "clip": true, "color": "#000000", "opacity": 0.85}, "encoding": {"x": {"field": "f", "type": "quantitative", "title": null, "scale": {"domain": [0, 7000]}, "axis": {"values": [0,1000,2000,3000,4000,5000,6000,7000], "format": "d"}}, "y": {"field": "a", "type": "quantitative", "title": "Amplitude(m/s²)", "scale": {"domain": [0, 0.6]}, "axis": {"values": [0,0.2,0.4,0.6], "format": "~g"}}}},
        {"mark": {"type": "line", "clip": true, "strokeWidth": 0.7}, "encoding": {"x": {"field": "f", "type": "quantitative", "title": null, "scale": {"domain": [0, 7000]}, "axis": {"values": [0,1000,2000,3000,4000,5000,6000,7000], "format": "d"}}, "y": {"field": "a", "type": "quantitative", "title": "Amplitude(m/s²)", "scale": {"domain": [0, 0.6]}, "axis": {"values": [0,0.2,0.4,0.6], "format": "~g"}}, "color": {"datum": "S07", "scale": {"range": ["#000000"]}, "legend": {"title": null}}}},
        {"data": {"values": [{"label": "Ymax(125,\u00a0\u00a0 1.50592)"}]}, "mark": {"type": "text", "align": "left", "baseline": "middle"}, "encoding": {"x": {"datum": 665, "type": "quantitative", "title": null, "scale": {"domain": [0, 7000]}, "axis": {"values": [0,1000,2000,3000,4000,5000,6000,7000], "format": "d"}}, "y": {"datum": 0.4, "type": "quantitative", "title": "Amplitude(m/s²)", "scale": {"domain": [0, 0.6]}, "axis": {"values": [0,0.2,0.4,0.6], "format": "~g"}}, "text": {"field": "label"}}}
      ]
    },
    {
      "width": 221, "height": 65,
      "data": {"values": [{"f":0,"a":0.06},{"f":30,"a":0.2},{"f":60,"a":0.1},{"f":90,"a":0.25},{"f":125.3,"a":2.07916},{"f":160,"a":0.1},{"f":200,"a":0.08},{"f":250,"a":0.7},{"f":290,"a":0.08},{"f":330,"a":0.08},{"f":375,"a":0.3},{"f":410,"a":0.07},{"f":460,"a":0.08},{"f":500,"a":0.25},{"f":540,"a":0.07},{"f":580,"a":0.07},{"f":625,"a":0.18},{"f":660,"a":0.06},{"f":710,"a":0.06},{"f":750,"a":0.15},{"f":790,"a":0.06},{"f":840,"a":0.06},{"f":875,"a":0.14},{"f":910,"a":0.06},{"f":960,"a":0.07},{"f":1000,"a":0.18},{"f":1040,"a":0.07},{"f":1090,"a":0.08},{"f":1125,"a":0.16},{"f":1160,"a":0.07},{"f":1210,"a":0.08},{"f":1250,"a":0.2},{"f":1290,"a":0.08},{"f":1340,"a":0.09},{"f":1375,"a":0.2},{"f":1410,"a":0.08},{"f":1460,"a":0.1},{"f":1500,"a":0.25},{"f":1540,"a":0.09},{"f":1580,"a":0.1},{"f":1625,"a":0.26},{"f":1660,"a":0.08},{"f":1700,"a":0.06},{"f":1750,"a":0.02},{"f":1900,"a":0.01},{"f":2200,"a":0.005},{"f":3000,"a":0.003},{"f":4000,"a":0.004},{"f":4500,"a":0.005},{"f":5500,"a":0.004},{"f":6000,"a":0.005},{"f":6400,"a":0.002},{"f":6500,"a":0}]},
      "layer": [
        {"mark": {"type": "area", "clip": true, "color": "#F76A22", "opacity": 0.85}, "encoding": {"x": {"field": "f", "type": "quantitative", "title": null, "scale": {"domain": [0, 7000]}, "axis": {"values": [0,1000,2000,3000,4000,5000,6000,7000], "format": "d"}}, "y": {"field": "a", "type": "quantitative", "title": "Amplitude(m/s²)", "scale": {"domain": [0, 0.6]}, "axis": {"values": [0,0.2,0.4,0.6], "format": "~g"}}}},
        {"mark": {"type": "line", "clip": true, "strokeWidth": 0.7}, "encoding": {"x": {"field": "f", "type": "quantitative", "title": null, "scale": {"domain": [0, 7000]}, "axis": {"values": [0,1000,2000,3000,4000,5000,6000,7000], "format": "d"}}, "y": {"field": "a", "type": "quantitative", "title": "Amplitude(m/s²)", "scale": {"domain": [0, 0.6]}, "axis": {"values": [0,0.2,0.4,0.6], "format": "~g"}}, "color": {"datum": "S15", "scale": {"range": ["#F76A22"]}, "legend": {"title": null}}}},
        {"data": {"values": [{"label": "Ymax(125.3,\u00a0\u00a0 2.07916)"}]}, "mark": {"type": "text", "align": "left", "baseline": "middle"}, "encoding": {"x": {"datum": 600, "type": "quantitative", "title": null, "scale": {"domain": [0, 7000]}, "axis": {"values": [0,1000,2000,3000,4000,5000,6000,7000], "format": "d"}}, "y": {"datum": 0.36, "type": "quantitative", "title": "Amplitude(m/s²)", "scale": {"domain": [0, 0.6]}, "axis": {"values": [0,0.2,0.4,0.6], "format": "~g"}}, "text": {"field": "label"}}}
      ]
    },
    {
      "width": 221, "height": 65,
      "data": {"values": [{"f":0,"a":0.1},{"f":30,"a":0.18},{"f":60,"a":0.09},{"f":90,"a":0.15},{"f":125.8,"a":1.27519},{"f":160,"a":0.1},{"f":200,"a":0.09},{"f":250,"a":0.9},{"f":290,"a":0.08},{"f":330,"a":0.08},{"f":375,"a":0.37},{"f":410,"a":0.07},{"f":460,"a":0.07},{"f":500,"a":0.36},{"f":540,"a":0.05},{"f":580,"a":0.05},{"f":625,"a":0.12},{"f":660,"a":0.04},{"f":710,"a":0.05},{"f":750,"a":0.21},{"f":790,"a":0.04},{"f":840,"a":0.05},{"f":875,"a":0.1},{"f":910,"a":0.05},{"f":960,"a":0.06},{"f":1000,"a":0.14},{"f":1040,"a":0.08},{"f":1090,"a":0.1},{"f":1125,"a":0.28},{"f":1160,"a":0.09},{"f":1210,"a":0.1},{"f":1250,"a":0.2},{"f":1290,"a":0.1},{"f":1340,"a":0.11},{"f":1375,"a":0.29},{"f":1410,"a":0.1},{"f":1460,"a":0.12},{"f":1500,"a":0.28},{"f":1540,"a":0.1},{"f":1580,"a":0.13},{"f":1625,"a":0.29},{"f":1660,"a":0.1},{"f":1700,"a":0.05},{"f":1800,"a":0.03},{"f":1900,"a":0.02},{"f":2000,"a":0.01},{"f":2300,"a":0.006},{"f":3000,"a":0.005},{"f":3800,"a":0.005},{"f":4100,"a":0.012},{"f":4500,"a":0.015},{"f":4900,"a":0.012},{"f":5200,"a":0.005},{"f":6000,"a":0.004},{"f":6500,"a":0}]},
      "layer": [
        {"mark": {"type": "area", "clip": true, "color": "#3BE817", "opacity": 0.85}, "encoding": {"x": {"field": "f", "type": "quantitative", "title": "Frequency(Hz)", "scale": {"domain": [0, 7000]}, "axis": {"values": [0,1000,2000,3000,4000,5000,6000,7000], "format": "d"}}, "y": {"field": "a", "type": "quantitative", "title": "Amplitude(m/s²)", "scale": {"domain": [0, 0.6]}, "axis": {"values": [0,0.2,0.4,0.6], "format": "~g"}}}},
        {"mark": {"type": "line", "clip": true, "strokeWidth": 0.7}, "encoding": {"x": {"field": "f", "type": "quantitative", "title": "Frequency(Hz)", "scale": {"domain": [0, 7000]}, "axis": {"values": [0,1000,2000,3000,4000,5000,6000,7000], "format": "d"}}, "y": {"field": "a", "type": "quantitative", "title": "Amplitude(m/s²)", "scale": {"domain": [0, 0.6]}, "axis": {"values": [0,0.2,0.4,0.6], "format": "~g"}}, "color": {"datum": "S08", "scale": {"range": ["#3BE817"]}, "legend": {"title": null}}}},
        {"data": {"values": [{"label": "Ymax(125.8,\u00a0\u00a0 1.27519)"}]}, "mark": {"type": "text", "align": "left", "baseline": "middle"}, "encoding": {"x": {"datum": 629, "type": "quantitative", "title": "Frequency(Hz)", "scale": {"domain": [0, 7000]}, "axis": {"values": [0,1000,2000,3000,4000,5000,6000,7000], "format": "d"}}, "y": {"datum": 0.47, "type": "quantitative", "title": "Amplitude(m/s²)", "scale": {"domain": [0, 0.6]}, "axis": {"values": [0,0.2,0.4,0.6], "format": "~g"}}, "text": {"field": "label"}}}
      ]
    },
    {
      "width": 221, "height": 65,
      "data": {"values": [{"f":0,"a":0.08},{"f":25,"a":0.12},{"f":50,"a":0.155957},{"f":75,"a":0.1},{"f":100,"a":0.08},{"f":125,"a":0.1},{"f":150,"a":0.06},{"f":200,"a":0.05},{"f":250,"a":0.07},{"f":300,"a":0.04},{"f":375,"a":0.05},{"f":450,"a":0.03},{"f":500,"a":0.04},{"f":600,"a":0.025},{"f":700,"a":0.02},{"f":800,"a":0.012},{"f":1000,"a":0.01},{"f":1250,"a":0.012},{"f":1500,"a":0.01},{"f":1700,"a":0.008},{"f":2000,"a":0.005},{"f":3000,"a":0.004},{"f":3700,"a":0.006},{"f":3900,"a":0.015},{"f":4100,"a":0.025},{"f":4250,"a":0.03},{"f":4400,"a":0.025},{"f":4600,"a":0.012},{"f":4900,"a":0.005},{"f":5500,"a":0.003},{"f":6200,"a":0.002},{"f":6500,"a":0}]},
      "layer": [
        {"mark": {"type": "area", "clip": true, "color": "#EE1111", "opacity": 0.85}, "encoding": {"x": {"field": "f", "type": "quantitative", "title": "Frequency(Hz)", "scale": {"domain": [0, 7000]}, "axis": {"values": [0,1000,2000,3000,4000,5000,6000,7000], "format": "d"}}, "y": {"field": "a", "type": "quantitative", "title": "Amplitude(m/s²)", "scale": {"domain": [0, 0.6]}, "axis": {"values": [0,0.2,0.4,0.6], "format": "~g"}}}},
        {"mark": {"type": "line", "clip": true, "strokeWidth": 0.7}, "encoding": {"x": {"field": "f", "type": "quantitative", "title": "Frequency(Hz)", "scale": {"domain": [0, 7000]}, "axis": {"values": [0,1000,2000,3000,4000,5000,6000,7000], "format": "d"}}, "y": {"field": "a", "type": "quantitative", "title": "Amplitude(m/s²)", "scale": {"domain": [0, 0.6]}, "axis": {"values": [0,0.2,0.4,0.6], "format": "~g"}}, "color": {"datum": "S16", "scale": {"range": ["#EE1111"]}, "legend": {"title": null}}}},
        {"data": {"values": [{"label": "Ymax(50,\u00a0\u00a0 0.155957)"}]}, "mark": {"type": "text", "align": "left", "baseline": "middle"}, "encoding": {"x": {"datum": 600, "type": "quantitative", "title": "Frequency(Hz)", "scale": {"domain": [0, 7000]}, "axis": {"values": [0,1000,2000,3000,4000,5000,6000,7000], "format": "d"}}, "y": {"datum": 0.3, "type": "quantitative", "title": "Amplitude(m/s²)", "scale": {"domain": [0, 0.6]}, "axis": {"values": [0,0.2,0.4,0.6], "format": "~g"}}, "text": {"field": "label"}}}
      ]
    }
  ]
}
